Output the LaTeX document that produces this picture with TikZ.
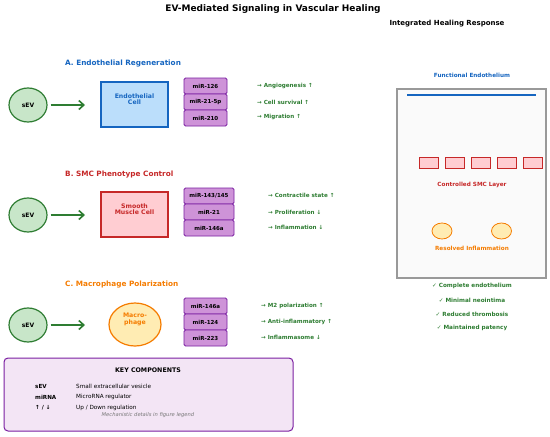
\documentclass[tikz,border=0pt]{standalone}
\usepackage{fontspec}
\setmainfont{DejaVu Sans}
\usetikzlibrary{arrows.meta,shapes.geometric}
\definecolor{sevfill}{HTML}{C8E6C9}
\definecolor{green}{HTML}{2E7D32}
\definecolor{blue}{HTML}{1565C0}
\definecolor{bluefill}{HTML}{BBDEFB}
\definecolor{red}{HTML}{C62828}
\definecolor{redfill}{HTML}{FFCDD2}
\definecolor{orange}{HTML}{F57C00}
\definecolor{orangefill}{HTML}{FFECB3}
\definecolor{mirfill}{HTML}{CE93D8}
\definecolor{mirborder}{HTML}{7B1FA2}
\definecolor{keyfill}{HTML}{F3E5F5}
\definecolor{panelgray}{HTML}{999999}
\definecolor{panelfill}{HTML}{FAFAFA}
\definecolor{notegray}{HTML}{777777}
\newcommand{\fs}[1]{\fontsize{#1}{#1}\selectfont}
\tikzset{
  sev/.style={ellipse, draw=green, fill=sevfill, line width=1.2pt, minimum width=38pt, minimum height=34pt, inner sep=0pt, font=\bfseries\fs{6}},
  flow/.style={draw=green, line width=1.6pt, -{Straight Barb[length=5pt,width=9pt]}},
  cellbox/.style={rectangle, line width=1.2pt, minimum width=67pt, minimum height=45pt, inner sep=0pt},
  celltext/.style={align=center, font=\bfseries\fs{6.2}, inner sep=0pt},
  mir/.style={rectangle, rounded corners=1.5pt, draw=mirborder, fill=mirfill, line width=0.9pt, minimum height=16pt, inner sep=0pt, font=\bfseries\fs{5.5}},
  effect/.style={anchor=west, text=green, font=\bfseries\fs{5.6}, inner sep=0pt},
  sectitle/.style={anchor=west, font=\bfseries\fs{7.3}, inner sep=0pt},
  paneltext/.style={font=\bfseries\fs{5.7}, inner sep=0pt},
  keylabel/.style={anchor=west, font=\bfseries\fs{5.6}, inner sep=0pt},
  keydesc/.style={anchor=west, font=\fs{5.7}, inner sep=0pt},
  smcrect/.style={rectangle, draw=red, fill=redfill, line width=0.8pt, minimum width=19pt, minimum height=11pt, inner sep=0pt},
  inflam/.style={ellipse, draw=orange, fill=orangefill, line width=0.8pt, minimum width=20pt, minimum height=16pt, inner sep=0pt}
}
\begin{document}
\begin{tikzpicture}[x=1pt,y=-1pt]
\useasboundingbox[fill=white] (0,0) rectangle (550,437);

\node[font=\bfseries\fs{9}] (title) at (273,9) {EV-Mediated Signaling in Vascular Healing};

% ---- A ----
\node[sectitle, text=blue] (ta) at (65,64) {A. Endothelial Regeneration};
\node[sev] (seva) at (28,105) {sEV};
\node[cellbox, draw=blue, fill=bluefill] (ecell) at (134.5,104.5) {};
\node[celltext, text=blue] (ecelltxt) at (134.5,99.5) {Endothelial\\Cell};
\draw[flow] (seva.east) ++(3,0) coordinate (sa) (sa) -- (85,105) coordinate (ea);
\node[mir, minimum width=43pt] (a1) at (205.5,86) {miR-126};
\node[mir, minimum width=43pt] (a2) at (205.5,102) {miR-21-5p};
\node[mir, minimum width=43pt] (a3) at (205.5,118) {miR-210};
\node[effect] (ea1) at (257,86) {→ Angiogenesis ↑};
\node[effect] (ea2) at (257,102) {→ Cell survival ↑};
\node[effect] (ea3) at (257,117) {→ Migration ↑};

% ---- B ----
\node[sectitle, text=red] (tb) at (65,175) {B. SMC Phenotype Control};
\node[sev] (sevb) at (28,215) {sEV};
\node[cellbox, draw=red, fill=redfill] (scell) at (134.5,214.5) {};
\node[celltext, text=red] (scelltxt) at (134.5,209.5) {Smooth\\Muscle Cell};
\draw[flow] (sevb.east) ++(3,0) coordinate (sb) (sb) -- (85,215) coordinate (eb);
\node[mir, minimum width=50pt] (b1) at (209,196) {miR-143/145};
\node[mir, minimum width=50pt] (b2) at (209,212) {miR-21};
\node[mir, minimum width=50pt] (b3) at (209,228) {miR-146a};
\node[effect] (eb1) at (268,195) {→ Contractile state ↑};
\node[effect] (eb2) at (268,212) {→ Proliferation ↓};
\node[effect] (eb3) at (268,227) {→ Inflammation ↓};

% ---- C ----
\node[sectitle, text=orange] (tc) at (65,285) {C. Macrophage Polarization};
\node[sev] (sevc) at (28,325) {sEV};
\node[ellipse, draw=orange, fill=orangefill, line width=1.2pt, minimum width=52pt, minimum height=43pt, inner sep=0pt] (mcell) at (135,324.5) {};
\node[celltext, text=orange] (mcelltxt) at (135,319.5) {Macro-\\phage};
\draw[flow] (sevc.east) ++(3,0) coordinate (sc) (sc) -- (85,325) coordinate (ec);
\node[mir, minimum width=43pt] (c1) at (205.5,306) {miR-146a};
\node[mir, minimum width=43pt] (c2) at (205.5,322) {miR-124};
\node[mir, minimum width=43pt] (c3) at (205.5,338) {miR-223};
\node[effect] (ec1) at (261,306) {→ M2 polarization ↑};
\node[effect] (ec2) at (261,322) {→ Anti-inflammatory ↑};
\node[effect] (ec3) at (261,337) {→ Inflammasome ↓};

% ---- Key ----
\draw[draw=mirborder, fill=keyfill, line width=1pt, rounded corners=4pt] (4,358) rectangle (293,431);
\node[font=\bfseries\fs{6.3}] (keyt) at (148,370) {KEY COMPONENTS};
\node[keylabel] (k1) at (35,386) {sEV};
\node[keydesc] (d1) at (76,386) {Small extracellular vesicle};
\node[keylabel] (k2) at (35,397) {miRNA};
\node[keydesc] (d2) at (76,397) {MicroRNA regulator};
\node[keylabel] (k3) at (35,408) {↑ / ↓};
\node[keydesc] (d3) at (76,408) {Up / Down regulation};
\node[font=\itshape\fs{5.2}, text=notegray] (note) at (148,415) {Mechanistic details in figure legend};

% ---- Right panel ----
\node[font=\bfseries\fs{7}] (rt) at (447,24) {Integrated Healing Response};
\node[paneltext, text=blue] (fe) at (472,75) {Functional Endothelium};
\draw[draw=panelgray, fill=panelfill, line width=1.2pt] (397,89) rectangle (546,278);
\draw[draw=blue, line width=2.5pt] (407,95) -- (536,95);
\foreach \i in {0,...,4} {
  \node[smcrect] (smc\i) at (428.5+26*\i,162.5) {};
}
\node[paneltext, text=red] (csl) at (472,185) {Controlled SMC Layer};
\node[inflam] (inf1) at (442,231) {};
\node[inflam] (inf2) at (501.5,231) {};
\node[paneltext, text=orange] (ri) at (472,248) {Resolved Inflammation};
\node[paneltext, text=green] (ch1) at (472,286) {✓ Complete endothelium};
\node[paneltext, text=green] (ch2) at (472,300) {✓ Minimal neointima};
\node[paneltext, text=green] (ch3) at (472,314) {✓ Reduced thrombosis};
\node[paneltext, text=green] (ch4) at (472,328) {✓ Maintained patency};
\end{tikzpicture}
\end{document}
